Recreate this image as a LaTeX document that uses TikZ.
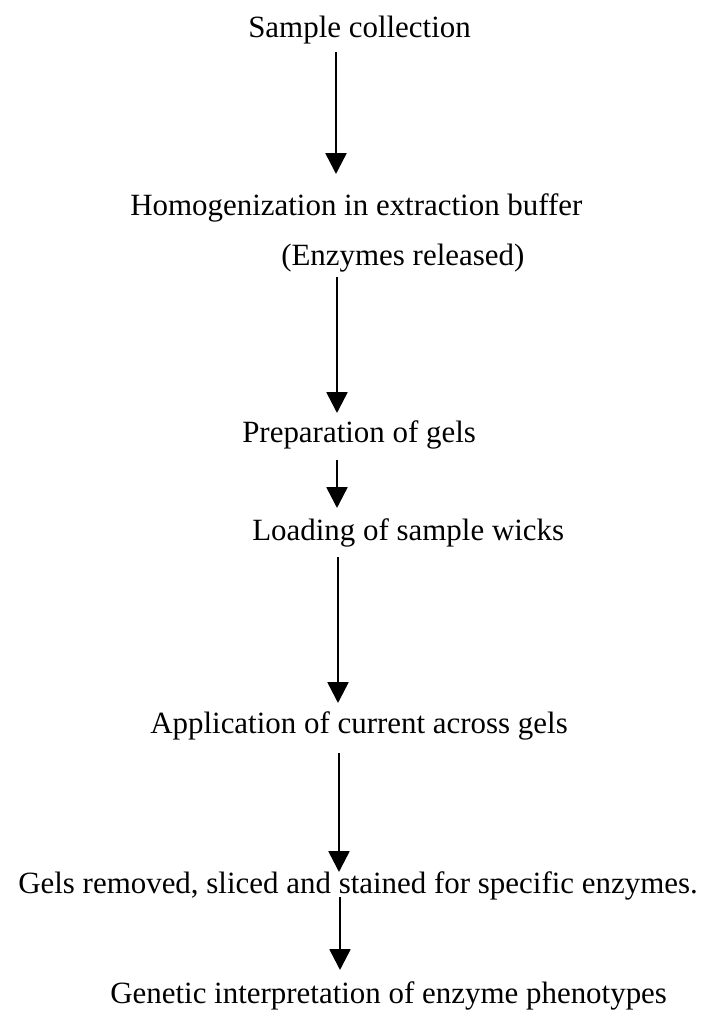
\documentclass[tikz,border=0pt]{standalone}
\usepackage{fontspec}
\setmainfont{Liberation Serif}
\usepackage{tikz}
\usetikzlibrary{arrows.meta}

\tikzset{
	stage/.style={anchor=base west, inner sep=0pt, font=\fontsize{22}{26}\selectfont},
	flow/.style={line width=1.8pt, -{Triangle[width=0.52cm, length=0.52cm]}}
}

\begin{document}
\begin{tikzpicture}[x=0.025cm, y=-0.025cm]
	\useasboundingbox (0,0) rectangle (713,1014);
	\node[stage] (sample) at (248,37) {Sample collection};
	\node[stage] (homog) at (130,215) {Homogenization in extraction buffer};
	\node[stage] (released) at (281,265) {(Enzymes released)};
	\node[stage] (gels) at (242,442) {Preparation of gels};
	\node[stage] (wicks) at (252,540) {Loading of sample wicks};
	\node[stage] (current) at (150,733) {Application of current across gels};
	\node[stage] (stained) at (18,893) {Gels removed, sliced and stained for specific enzymes.};
	\node[stage] (genetic) at (110,1003) {Genetic interpretation of enzyme phenotypes};
	\coordinate (sample-out) at (336,52);
	\coordinate (homog-in) at (336,174);
	\coordinate (released-out) at (337,277);
	\coordinate (gels-in) at (337,413);
	\coordinate (gels-out) at (337,460);
	\coordinate (wicks-in) at (337,508);
	\coordinate (wicks-out) at (338,557);
	\coordinate (current-in) at (338,703);
	\coordinate (current-out) at (339,753);
	\coordinate (stained-in) at (339,872);
	\coordinate (stained-out) at (340,897);
	\coordinate (genetic-in) at (340,970);
	\draw[flow] (sample-out) -- (homog-in);
	\draw[flow] (released-out) -- (gels-in);
	\draw[flow] (gels-out) -- (wicks-in);
	\draw[flow] (wicks-out) -- (current-in);
	\draw[flow] (current-out) -- (stained-in);
	\draw[flow] (stained-out) -- (genetic-in);
\end{tikzpicture}
\end{document}
